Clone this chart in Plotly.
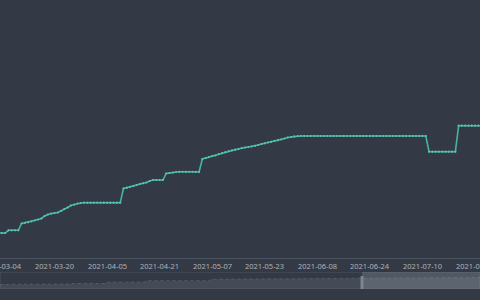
import plotly.graph_objects as go
import pandas as pd

# ---- data ----
start_date = "2021-03-03"
values = [
    25, 25, 25, 27.7, 27.7, 27.7, 27.7, 34.5, 35.2, 35.7, 36.5, 37.5, 38.5, 39.5, 42, 43.5,
    44.5, 45, 45.5, 47, 49, 50.5, 52.5, 53.5, 54.5, 55,
    55.3, 55.3, 55.3, 55.3, 55.3, 55.3, 55.3, 55.3, 55.3, 55.3, 55.3, 55.3,
    69.5, 70.2, 71, 72, 73, 74, 74.7, 75.5, 77, 78, 78, 78, 78,
    84.5, 85, 85.5, 86, 86.2, 86.2, 86.2, 86.2, 86.2, 86.2, 86,
    99, 100, 101, 102, 102.5, 104, 105, 106, 107, 107.7, 108.3, 109, 110, 110.5, 111,
    111.5, 112.2, 113, 114, 114.7, 115.5, 116.2, 117, 117.7, 118.5, 119.5, 120.5, 121, 121.7,
] + [122] * 40 + [106.3] * 9 + [132.3] * 9
dates = pd.date_range(start_date, periods=len(values), freq="D")

tick_dates = ["2021-03-04", "2021-03-20", "2021-04-05", "2021-04-21", "2021-05-07",
              "2021-05-23", "2021-06-08", "2021-06-24", "2021-07-10", "2021-07-26"]

# slider data shadow (position along slider, height)
slider_pos = [0, 25, 26, 70, 71, 105, 106, 145, 146, 210, 211, 300, 362, 400, 480]
slider_shadow = [4.5, 4.5, 5, 5, 5.5, 5.5, 6.8, 6.8, 8.3, 8.3, 9.7, 10, 10.2, 11, 11.5]
window_start = 362
window_end = 480

BG = "#333a45"
LINE = "#45b3a6"

fig = go.Figure()
fig.add_trace(go.Scatter(
    x=dates, y=values, mode="lines+markers",
    line=dict(color=LINE, width=1.6),
    marker=dict(color="#5cc4b6", size=2.2),
    hoverinfo="skip", showlegend=False,
))
fig.add_trace(go.Scatter(
    x=slider_pos, y=slider_shadow, mode="lines", fill="tozeroy",
    line=dict(color="#5a626e", width=0.8, dash="dot"),
    fillcolor="rgba(120,128,140,0.25)",
    xaxis="x2", yaxis="y2", hoverinfo="skip", showlegend=False,
))

fig.update_layout(
    width=480, height=300,
    margin=dict(l=0, r=0, t=0, b=0),
    paper_bgcolor=BG, plot_bgcolor=BG,
    xaxis=dict(
        domain=[0, 1], range=["2021-03-03 10:00", "2021-07-27 12:00"],
        tickvals=tick_dates, showticklabels=False,
        showgrid=False, zeroline=False,
        showline=True, linecolor="#4b5361", linewidth=1,
        ticks="", anchor="y",
    ),
    yaxis=dict(
        domain=[0.14, 1], range=[0, 258], visible=False, fixedrange=True,
    ),
    xaxis2=dict(
        domain=[0, 1], range=[0, 480], visible=False, anchor="y2",
    ),
    yaxis2=dict(
        domain=[0.0367, 0.0933], range=[0, 17], visible=False,
    ),
    annotations=[
        dict(x=d, y=(300 - 266) / 300, xref="x", yref="paper", text=d, showarrow=False,
             xanchor="center", yanchor="middle",
             font=dict(family="Noto Sans", size=7.5, color="#aeb2ba"))
        for d in tick_dates
    ],
    shapes=[
        # slider frame
        dict(type="rect", xref="x2", yref="y2", x0=0, x1=480, y0=0, y1=17,
             line=dict(color="#4b5361", width=1), fillcolor="rgba(0,0,0,0)", layer="below"),
        # selected window
        dict(type="rect", xref="x2", yref="y2", x0=window_start, x1=window_end, y0=0, y1=17,
             line=dict(width=0), fillcolor="rgba(150,158,170,0.30)", layer="above"),
        # handle
        dict(type="rect", xref="x2", yref="y2", x0=window_start - 1.5, x1=window_start + 1.5,
             y0=0, y1=13, line=dict(width=0), fillcolor="#7d8592", layer="above"),
    ],
)

fig.write_html("out.html")
